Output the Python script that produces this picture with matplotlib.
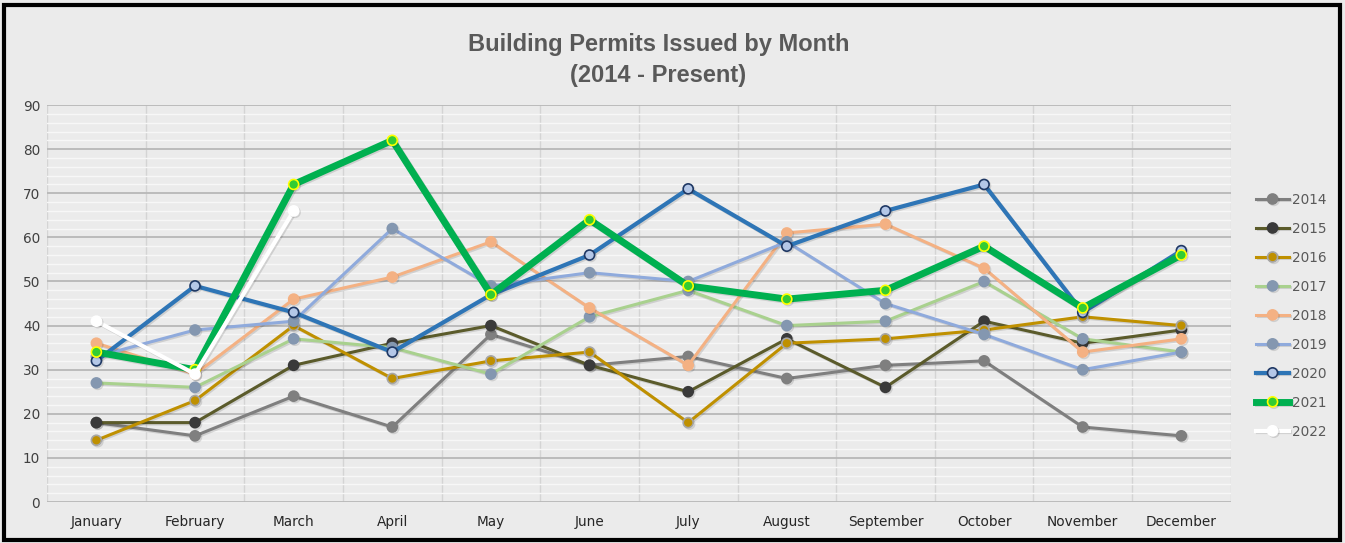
import matplotlib.pyplot as plt
import matplotlib.patheffects as pe
from matplotlib.patches import Rectangle

months = ["January", "February", "March", "April", "May", "June", "July",
          "August", "September", "October", "November", "December"]

y2014 = [18, 15, 24, 17, 38, 31, 33, 28, 31, 32, 17, 15]
y2015 = [18, 18, 31, 36, 40, 31, 25, 37, 26, 41, 36, 39]
y2016 = [14, 23, 40, 28, 32, 34, 18, 36, 37, 39, 42, 40]
y2017 = [27, 26, 37, 35, 29, 42, 48, 40, 41, 50, 37, 34]
y2018 = [36, 29, 46, 51, 59, 44, 31, 61, 63, 53, 34, 37]
y2019 = [33, 39, 41, 62, 49, 52, 50, 59, 45, 38, 30, 34]
y2020 = [32, 49, 43, 34, 47, 56, 71, 58, 66, 72, 43, 57]
y2021 = [34, 30, 72, 82, 47, 64, 49, 46, 48, 58, 44, 56]
y2022 = [41, 29, 66]

# year, values, line colour, line width, marker face, marker edge
series = [
    ("2014", y2014, "#7f7f7f", 2.2, "#7f7f7f", "#7f7f7f"),
    ("2015", y2015, "#5b5b2b", 2.2, "#3a3a3a", "#3a3a3a"),
    ("2016", y2016, "#bf9000", 2.2, "#bf9000", "#a6a6a6"),
    ("2017", y2017, "#a9d18e", 2.2, "#8497b0", "#8497b0"),
    ("2018", y2018, "#f4b183", 2.2, "#f4b183", "#f4b183"),
    ("2019", y2019, "#8faadc", 2.2, "#8497b0", "#8497b0"),
    ("2020", y2020, "#2e75b6", 3.0, "#b4c7e7", "#1f3864"),
    ("2021", y2021, "#00b050", 5.0, "#33cc33", "#ffff00"),
    ("2022", y2022, "#ffffff", 3.0, "#ffffff", "#ffffff"),
]

fig = plt.figure(figsize=(13.45, 5.43), dpi=100)
fig.patch.set_facecolor("#ebebeb")
ax = fig.add_axes([0.035, 0.0755, 0.88, 0.731])
ax.set_facecolor("#ebebeb")

shadow = [pe.SimpleLineShadow(offset=(1, -1), alpha=0.12), pe.Normal()]
for name, vals, col, lw, mfc, mec in series:
    ax.plot(range(len(vals)), vals, color=col, lw=lw, marker="o", ms=7.2,
            mfc=mfc, mec=mec, mew=1.2, label=name, path_effects=shadow, zorder=3)

ax.set_xlim(-0.5, 11.5)
ax.set_ylim(0, 90)
ax.set_yticks(range(0, 91, 10))
ax.set_yticks(range(0, 91, 2), minor=True)
ax.set_xticks(range(12))
ax.set_xticklabels(months)
ax.set_xticks([i + 0.5 for i in range(-1, 12)], minor=True)
ax.tick_params(axis="x", which="both", length=0, labelsize=9.8, pad=9, colors="#262626")
ax.tick_params(axis="y", which="both", length=0, labelsize=9.8, pad=5, colors="#404040")
ax.grid(axis="y", which="minor", color="#f7f7f7", lw=1.0, zorder=0)
ax.grid(axis="y", which="major", color="#b8b8b8", lw=1.3, zorder=1)
ax.grid(axis="x", which="minor", color="#d4d4d4", lw=1.0, zorder=1)
ax.grid(axis="x", which="major", visible=False)
for s in ax.spines.values():
    s.set_visible(False)

fig.text(0.4895, 0.889, "Building Permits Issued by Month\n(2014 - Present)", fontsize=17,
         fontweight="bold", color="#595959", family="Liberation Sans",
         ha="center", va="center", linespacing=1.45)

leg = fig.legend(loc="upper left", bbox_to_anchor=(0.934, 0.645), frameon=False,
                 fontsize=9.8, labelspacing=1.1, handlelength=2.4, handletextpad=0.25,
                 borderaxespad=0, borderpad=0)
for t in leg.get_texts():
    t.set_color("#595959")

fig.patches.append(Rectangle((0.003, 0.006), 0.993, 0.985, transform=fig.transFigure,
                             fill=False, edgecolor="black", lw=3))

fig.savefig("out.png", dpi=100, facecolor=fig.get_facecolor())
